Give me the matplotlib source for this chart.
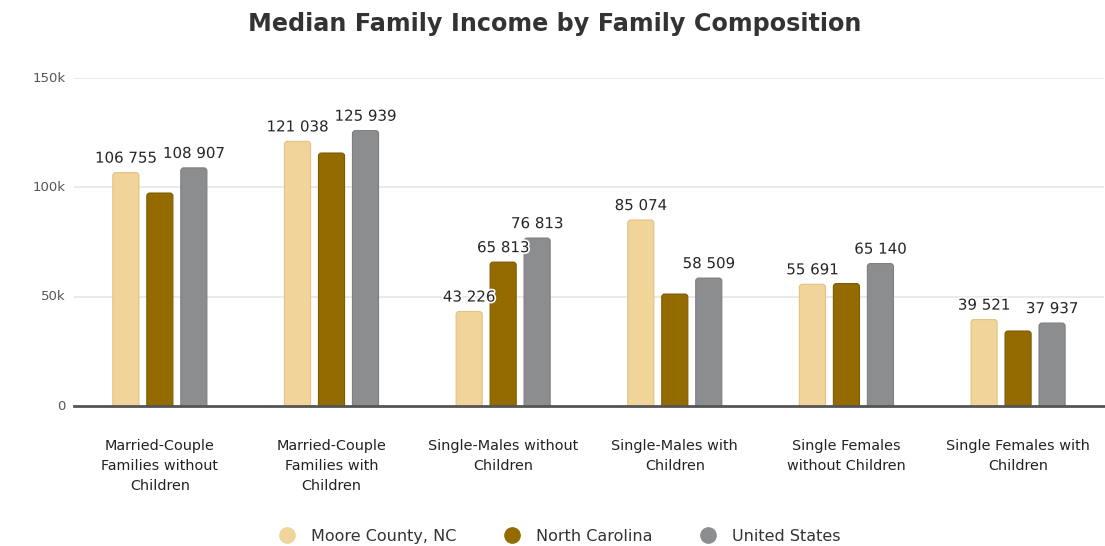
import matplotlib
matplotlib.use("Agg")
import matplotlib.pyplot as plt
import matplotlib.patheffects as pe
from matplotlib.lines import Line2D
from matplotlib.patches import FancyBboxPatch
import numpy as np

plt.rcParams['font.family'] = ['DejaVu Sans']

title = "Median Family Income by Family Composition"
categories = [
    "Married-Couple\nFamilies without\nChildren",
    "Married-Couple\nFamilies with\nChildren",
    "Single-Males without\nChildren",
    "Single-Males with\nChildren",
    "Single Females\nwithout Children",
    "Single Females with\nChildren",
]
series_names = ["Moore County, NC", "North Carolina", "United States"]
moore = [106755, 121038, 43226, 85074, 55691, 39521]
north_carolina = [97400, 115700, 65813, 51200, 56000, 34300]
united_states = [108907, 125939, 76813, 58509, 65140, 37937]
# which bars carry a value label
moore_labels = [True, True, True, True, True, True]
nc_labels = [False, False, True, False, False, False]
us_labels = [True, True, True, True, True, True]
y_ticks = [0, 50000, 100000, 150000]
y_tick_labels = ["0", "50k", "100k", "150k"]

colors = ["#F1D49A", "#946B00", "#8B8D8F"]
edges = ["#E2C284", "#7E5A00", "#7C7E80"]

W, H = 11.05, 5.46
fig = plt.figure(figsize=(W, H), dpi=100)
ax_rect = [0.067, 0.2564, 0.932, 0.6007]
ax = fig.add_axes(ax_rect)

x = np.arange(len(categories))
width = 0.152
step = 0.198
ymax = 150000
ax.set_xlim(-0.5, len(categories) - 0.5)
ax.set_ylim(0, ymax)

# data units per pixel, used to keep the rounded corners circular
px_x = len(categories) / (ax_rect[2] * W * 100)
px_y = ymax / (ax_rect[3] * H * 100)
radius_px = 3.0

all_series = [moore, north_carolina, united_states]
all_labels = [moore_labels, nc_labels, us_labels]

for i, (vals, shows) in enumerate(zip(all_series, all_labels)):
    pos = x + (i - 1) * step
    bars = ax.bar(pos, vals, width=width, color=colors[i], edgecolor=edges[i],
                  linewidth=0.8, zorder=3, label=series_names[i])
    for b, v, s in zip(bars, vals, shows):
        b.set_visible(False)
        sink = radius_px * 2 * px_y
        patch = FancyBboxPatch((b.get_x(), -sink), b.get_width(), v + sink,
                               boxstyle=f"round,pad=0,rounding_size={radius_px * px_x}",
                               mutation_aspect=px_y / px_x,
                               facecolor=colors[i], edgecolor=edges[i],
                               linewidth=0.8, zorder=3)
        ax.add_patch(patch)
        if not s:
            continue
        txt = f"{v:,}".replace(",", " ")
        ax.annotate(txt, (b.get_x() + b.get_width() / 2, v),
                    xytext=(0, 5), textcoords="offset points",
                    ha="center", va="bottom", fontsize=10.8, color="#262626",
                    zorder=5,
                    path_effects=[pe.withStroke(linewidth=2.5, foreground="white")])

ax.set_yticks(y_ticks)
ax.set_yticklabels(y_tick_labels, fontsize=9.5, color="#555555")
ax.set_xticks(x)
ax.set_xticklabels(categories, fontsize=10.4, color="#222222", linespacing=1.57)
ax.tick_params(axis="x", length=0, pad=23.5)
ax.tick_params(axis="y", length=0, pad=6)
for lbl in ax.get_yticklabels():
    lbl.set_verticalalignment("center")

ax.grid(axis="y", color="#E6E6E6", linewidth=1.2, zorder=0)
for side in ["top", "right", "left"]:
    ax.spines[side].set_visible(False)
ax.spines["bottom"].set_color("#555555")
ax.spines["bottom"].set_linewidth(2)
ax.spines["bottom"].set_zorder(4)

fig.suptitle(title, x=0.502, y=0.978, fontsize=17.2, fontweight="bold", color="#333333")

handles = [Line2D([0], [0], marker="o", linestyle="", markersize=11,
                  markerfacecolor=c, markeredgecolor=c) for c in colors]
fig.legend(handles, series_names, loc="lower center", bbox_to_anchor=(0.503, -0.022),
           ncol=3, frameon=False, fontsize=11.5, handletextpad=0.5, columnspacing=2.5,
           labelcolor="#333333")

fig.savefig("out.png", dpi=100, facecolor="white")
